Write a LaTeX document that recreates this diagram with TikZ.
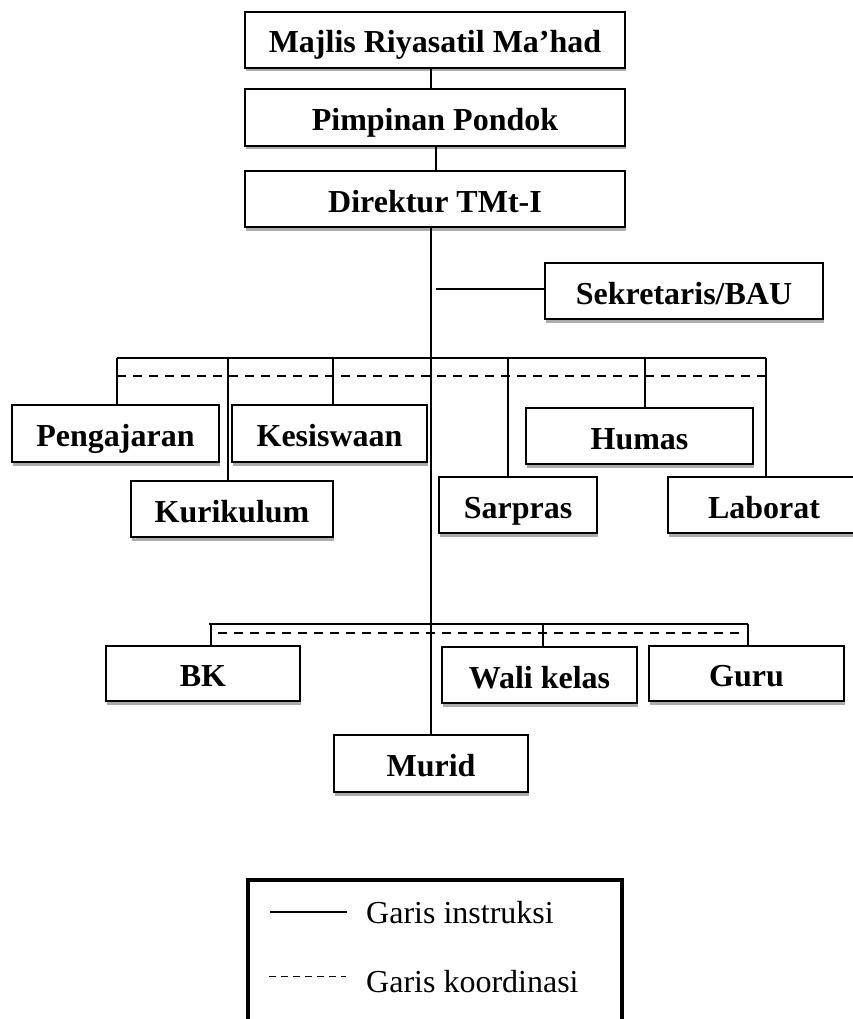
\documentclass[tikz,border=0pt]{standalone}
\usepackage{fontspec}
\setmainfont{Liberation Serif}
\usetikzlibrary{shadows}
\begin{document}
\begin{tikzpicture}[x=1pt,y=-1pt,
  org/.style={draw, line width=1.8pt, fill=white, inner sep=0pt,
    text height=32pt, text depth=6pt,
    font=\bfseries\fontsize{32}{38}\selectfont,
    drop shadow={shadow xshift=1pt, shadow yshift=-3.5pt, fill=gray!65, opacity=1}},
  link/.style={line width=1.6pt},
  coordline/.style={line width=1.6pt, dash pattern=on 9pt off 7pt},
  legtext/.style={anchor=base west, inner sep=0pt, font=\fontsize{32}{38}\selectfont}]
\useasboundingbox (0,0) rectangle (853,1019);
\clip (0,0) rectangle (853,1019);

% boxes
\node[org, minimum width=380pt, minimum height=56pt] (majlis) at (435,40) {Majlis Riyasatil Ma’had};
\node[org, minimum width=380pt, minimum height=57pt] (pimp) at (435,117.5) {Pimpinan Pondok};
\node[org, minimum width=380pt, minimum height=56pt] (dir) at (435,199) {Direktur TMt-I};
\node[org, minimum width=278pt, minimum height=56pt] (sek) at (684,291) {Sekretaris/BAU};

\node[org, minimum width=207pt, minimum height=57pt] (peng) at (115.5,433.5) {Pengajaran};
\node[org, minimum width=195pt, minimum height=57pt] (kes) at (329.5,433.5) {Kesiswaan};
\node[org, minimum width=202pt, minimum height=56pt] (kur) at (232,509) {Kurikulum};
\node[org, minimum width=227pt, minimum height=56pt] (hum) at (639.5,436) {Humas};
\node[org, minimum width=158pt, minimum height=56pt] (sar) at (518,505) {Sarpras};
\node[org, minimum width=192pt, minimum height=56pt] (lab) at (764,505) {Laborat};

\node[org, minimum width=194pt, minimum height=55pt] (bk) at (203,673.5) {BK};
\node[org, minimum width=195pt, minimum height=56pt] (wali) at (539.5,675) {Wali kelas};
\node[org, minimum width=195pt, minimum height=55pt] (guru) at (746.5,673.5) {Guru};
\node[org, minimum width=194pt, minimum height=57pt] (murid) at (431,763.5) {Murid};

% trunk
\coordinate (tx) at (431,0);
\coordinate (tx2) at (436,0);
\draw[link] (majlis.south -| tx) -- (pimp.north -| tx);
\draw[link] (pimp.south -| tx2) -- (dir.north -| tx2);
\draw[link] (dir.south -| tx) -- (murid.north -| tx);

% sekretaris
\coordinate (s0) at (436,289);
\draw[link] (s0) -- (s0 -| sek.west);

% upper bus
\coordinate (ua) at (117,358);
\coordinate (ub) at (228,358);
\coordinate (uc) at (333,358);
\coordinate (ud) at (508,358);
\coordinate (ue) at (645,358);
\coordinate (uf) at (766,358);
\draw[link] (ua) -- (uf);
\coordinate (dka) at (117,376);
\coordinate (dkb) at (768,376);
\draw[coordline] (dka) -- (dkb);
\draw[link] (ua) -- (ua |- peng.north);
\draw[link] (ub) -- (ub |- kur.north);
\draw[link] (uc) -- (uc |- kes.north);
\draw[link] (ud) -- (ud |- sar.north);
\draw[link] (ue) -- (ue |- hum.north);
\draw[link] (uf) -- (uf |- lab.north);

% lower bus
\coordinate (la) at (209,624);
\coordinate (lb) at (748,624);
\draw[link] (la) -- (lb);
\coordinate (lka) at (218,633);
\coordinate (lkb) at (745,633);
\draw[coordline] (lka) -- (lkb);
\coordinate (pa) at (211,624);
\coordinate (pb) at (543,624);
\coordinate (pc) at (748,624);
\draw[link] (pa) -- (pa |- bk.north);
\draw[link] (pb) -- (pb |- wali.north);
\draw[link] (pc) -- (pc |- guru.north);

% legend
\coordinate (lg0) at (248,1040);
\coordinate (lg1) at (248,880);
\coordinate (lg2) at (622,880);
\coordinate (lg3) at (622,1040);
\draw[line width=4.5pt] (lg0) -- (lg1) -- (lg2) -- (lg3);
\node[legtext] (ti) at (366,923) {Garis instruksi};
\node[legtext] (tk) at (366,992) {Garis koordinasi};
\coordinate (m1a) at (270,912);
\coordinate (m1b) at (347,912);
\draw[line width=1.2pt] (m1a) -- (m1b);
\coordinate (m2a) at (269,976);
\coordinate (m2b) at (346,976);
\draw[line width=1pt, dash pattern=on 7pt off 5pt] (m2a) -- (m2b);
\end{tikzpicture}
\end{document}
